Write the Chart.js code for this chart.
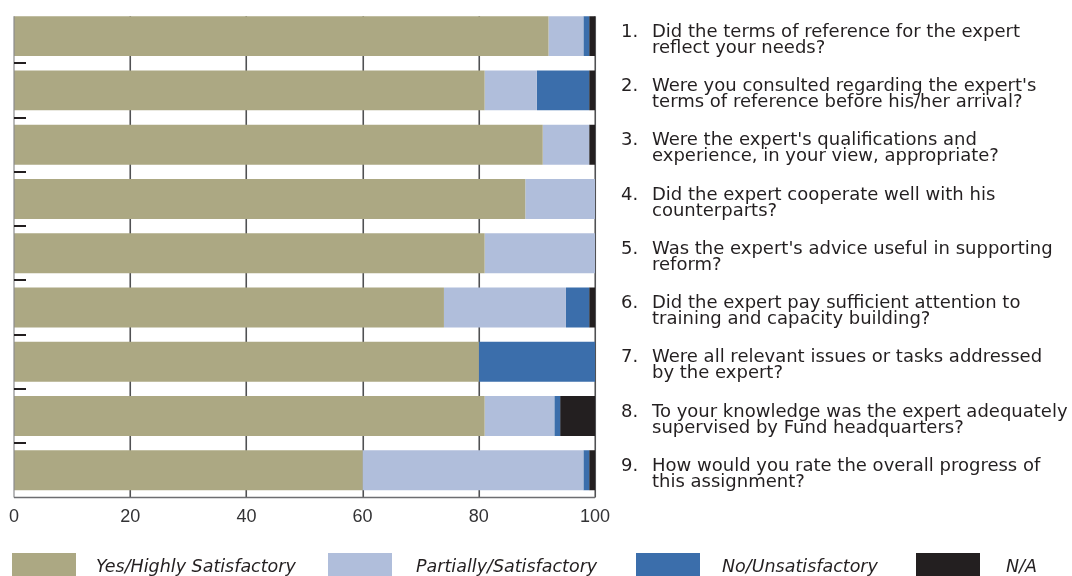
<!DOCTYPE html>
<html><head><meta charset="utf-8">
<script src="https://cdn.jsdelivr.net/npm/chart.js@4.4.1/dist/chart.umd.min.js"></script>
<style>html,body{margin:0;padding:0;background:#fff;overflow:hidden}canvas{display:block}</style>
</head><body>
<canvas id="c" width="1072" height="576"></canvas>
<script>
const categories = ['1', '2', '3', '4', '5', '6', '7', '8', '9'];
const questions = [
  ['Did the terms of reference for the expert', 'reflect your needs?'],
  ["Were you consulted regarding the expert's", 'terms of reference before his/her arrival?'],
  ["Were the expert's qualifications and", 'experience, in your view, appropriate?'],
  ['Did the expert cooperate well with his', 'counterparts?'],
  ["Was the expert's advice useful in supporting", 'reform?'],
  ['Did the expert pay sufficient attention to', 'training and capacity building?'],
  ['Were all relevant issues or tasks addressed', 'by the expert?'],
  ['To your knowledge was the expert adequately', 'supervised by Fund headquarters?'],
  ['How would you rate the overall progress of', 'this assignment?']
];
const seriesNames = ['Yes/Highly Satisfactory', 'Partially/Satisfactory', 'No/Unsatisfactory', 'N/A'];
const yesHighly = [92, 81, 91, 88, 81, 74, 80, 81, 60];
const partially = [6, 9, 8, 12, 19, 21, 0, 12, 38];
const noUnsat = [1, 9, 0, 0, 0, 4, 20, 1, 1];
const notApplicable = [1, 1, 1, 0, 0, 1, 0, 6, 1];
const xTickValues = [0, 20, 40, 60, 80, 100];

const colors = ['#aca883', '#b0bedb', '#3b6eab', '#231f20'];
const FONT = "'Liberation Sans', Arial, sans-serif";
const QFONT = "'DejaVu Sans', sans-serif";

const seriesData = [yesHighly, partially, noUnsat, notApplicable];
const datasets = seriesNames.map((name, i) => ({
  label: name,
  data: seriesData[i],
  backgroundColor: colors[i],
  borderWidth: 0,
  barPercentage: 0.736,
  categoryPercentage: 1.0,
  stack: 's'
}));

const decor = {
  id: 'decor',
  beforeDatasetsDraw(chart) {
    const ctx = chart.ctx, x = chart.scales.x, ca = chart.chartArea;
    const first = chart.getDatasetMeta(0).data[0];
    const top = first.y - first.height / 2;
    ctx.save();
    ctx.strokeStyle = '#505153';
    ctx.lineWidth = 1.6;
    xTickValues.forEach(v => {
      if (v === 0) return;
      const px = Math.round(x.getPixelForValue(v)) + 0.25;
      ctx.beginPath(); ctx.moveTo(px, top); ctx.lineTo(px, ca.bottom); ctx.stroke();
    });
    ctx.restore();
  },
  afterDatasetsDraw(chart) {
    const ctx = chart.ctx, x = chart.scales.x, y = chart.scales.y, ca = chart.chartArea;
    const first = chart.getDatasetMeta(0).data[0];
    const top = first.y - first.height / 2;
    ctx.save();
    ctx.strokeStyle = '#8a8b8d';
    ctx.lineWidth = 1.2;
    const x0 = x.getPixelForValue(0);
    ctx.beginPath(); ctx.moveTo(x0, top); ctx.lineTo(x0, ca.bottom); ctx.stroke();
    ctx.strokeStyle = '#6d6e71';
    ctx.lineWidth = 1.5;
    ctx.beginPath(); ctx.moveTo(x0, ca.bottom); ctx.lineTo(x.getPixelForValue(100), ca.bottom); ctx.stroke();
    ctx.strokeStyle = '#231f20';
    ctx.lineWidth = 2;
    for (let i = 0; i < categories.length - 1; i++) {
      const py = Math.round((y.getPixelForValue(i) + y.getPixelForValue(i + 1)) / 2);
      ctx.beginPath(); ctx.moveTo(x0, py); ctx.lineTo(x0 + 12, py); ctx.stroke();
    }
    ctx.restore();
  },
  afterDraw(chart) {
    const ctx = chart.ctx, y = chart.scales.y;
    ctx.save();
    ctx.fillStyle = '#231f20';
    ctx.font = '18px ' + QFONT;
    ctx.textBaseline = 'middle';
    ctx.textAlign = 'left';
    categories.forEach((c, i) => {
      const cy = y.getPixelForValue(i);
      ctx.fillText(c + '.', 621, cy - 4);
      ctx.fillText(questions[i][0], 652, cy - 4);
      ctx.fillText(questions[i][1], 652, cy + 12);
    });
    const boxX = [12, 328, 636, 916];
    const textX = [96, 416, 722, 1006];
    ctx.font = 'italic 17.5px ' + QFONT;
    seriesNames.forEach((name, i) => {
      ctx.fillStyle = colors[i];
      ctx.fillRect(boxX[i], 553, 64, 30);
      ctx.fillStyle = '#231f20';
      ctx.fillText(name, textX[i], 567);
    });
    ctx.restore();
  }
};

new Chart(document.getElementById('c'), {
  type: 'bar',
  data: { labels: categories, datasets },
  options: {
    indexAxis: 'y',
    responsive: false,
    animation: false,
    layout: { padding: { left: 12, right: 477, top: 9, bottom: 39 } },
    plugins: { legend: { display: false }, tooltip: { enabled: false } },
    scales: {
      x: {
        stacked: true, min: 0, max: 100,
        afterBuildTicks(scale) { scale.ticks = xTickValues.map(v => ({ value: v })); },
        ticks: { color: '#333335', font: { family: FONT, size: 18 }, padding: 9, maxRotation: 0 },
        grid: { display: false, drawTicks: false },
        border: { display: false }
      },
      y: { stacked: true, display: false }
    }
  },
  plugins: [decor]
});
</script>
</body></html>
